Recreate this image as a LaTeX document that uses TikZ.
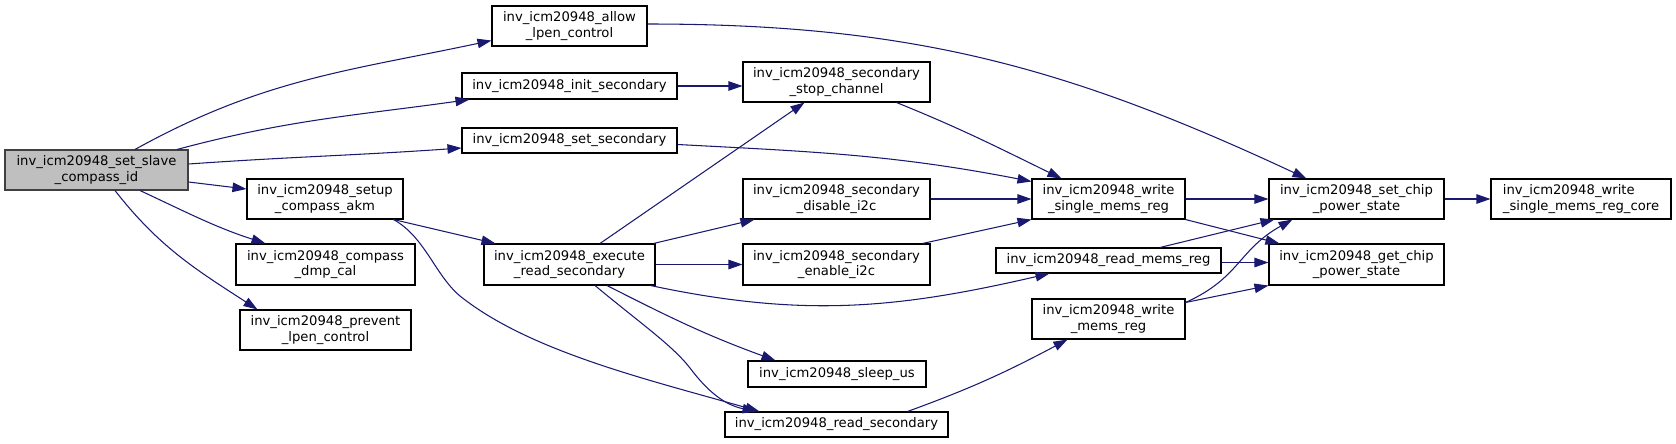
\documentclass[tikz,border=0pt]{standalone}
\usepackage{fontspec}
\setmainfont{DejaVu Sans}
\usetikzlibrary{arrows.meta,positioning,calc}
\definecolor{edgeblue}{HTML}{191970}
\definecolor{mainfill}{HTML}{BFBFBF}
\definecolor{mainline}{HTML}{404040}
\tikzset{
  fn/.style 2 args={rectangle, draw=black, fill=white, line width=0.6pt, align=center,
    minimum width=#1*0.02cm, minimum height=#2*0.02cm, inner sep=1pt,
    font=\fontsize{7.5}{8.6}\selectfont},
  fn main/.style 2 args={fn={#1}{#2}, fill=mainfill, draw=mainline},
  call/.style={-{Triangle[length=0.28cm, width=0.19cm]}, edgeblue, line width=0.6pt},
}

\begin{document}
\begin{tikzpicture}[x=0.02cm,y=-0.02cm]
\useasboundingbox (0,0) rectangle (1676,443);
% functions
\node[fn main={183}{40}] (setslave) at (96.5,170) {inv\_icm20948\_set\_slave\\\_compass\_id};
\node[fn={155}{40}] (allow) at (569.5,26) {inv\_icm20948\_allow\\\_lpen\_control};
\node[fn={215}{26}] (initsec) at (569.5,86) {inv\_icm20948\_init\_secondary};
\node[fn={215}{25}] (setsec) at (569.5,140.5) {inv\_icm20948\_set\_secondary};
\node[fn={156}{40}] (setupakm) at (325,199) {inv\_icm20948\_setup\\\_compass\_akm};
\node[fn={179}{41}] (dmpcal) at (325.5,264.5) {inv\_icm20948\_compass\\\_dmp\_cal};
\node[fn={171}{40}] (prevent) at (325.5,330) {inv\_icm20948\_prevent\\\_lpen\_control};
\node[fn={171}{41}] (execread) at (569.5,264.5) {inv\_icm20948\_execute\\\_read\_secondary};
\node[fn={187}{40}] (stopch) at (836.5,82) {inv\_icm20948\_secondary\\\_stop\_channel};
\node[fn={187}{40}] (disable) at (836.5,199) {inv\_icm20948\_secondary\\\_disable\_i2c};
\node[fn={187}{41}] (enable) at (836.5,264.5) {inv\_icm20948\_secondary\\\_enable\_i2c};
\node[fn={178}{26}] (sleepus) at (837,374) {inv\_icm20948\_sleep\_us};
\node[fn={223}{25}] (readsec) at (836.5,424.5) {inv\_icm20948\_read\_secondary};
\node[fn={153}{40}] (wsingle) at (1108.5,199) {inv\_icm20948\_write\\\_single\_mems\_reg};
\node[fn={225}{25}] (readmems) at (1108.5,260.5) {inv\_icm20948\_read\_mems\_reg};
\node[fn={153}{40}] (wmems) at (1108.5,319) {inv\_icm20948\_write\\\_mems\_reg};
\node[fn={175}{40}] (setchip) at (1356.5,199) {inv\_icm20948\_set\_chip\\\_power\_state};
\node[fn={175}{41}] (getchip) at (1356.5,264.5) {inv\_icm20948\_get\_chip\\\_power\_state};
\node[fn={180}{40}, align=left] (core) at (1581,199) {inv\_icm20948\_write\\\_single\_mems\_reg\_core};
% calls from set_slave_compass_id
\draw[call] ($(setslave.north)+(38.5,0)$) to[out=29,in=192] ($(allow.south west)+(0,-6)$);
\draw[call] ($(setslave.north)+(80.5,0)$) to[out=15,in=188] ($(initsec.south west)+(8,0)$);
\draw[call] ($(setslave.east)+(0,-6)$) to[out=4,in=184] ($(setsec.west)+(0,7.5)$);
\draw[call] ($(setslave.east)+(0,12)$) -- ($(setupakm.west)+(0,-10)$);
\draw[call] ($(setslave.south)+(43.5,0)$) to[out=-25,in=162] ($(dmpcal.north west)+(30,0)$);
\draw[call] ($(setslave.south)+(18.5,0)$) to[out=-52,in=147] ($(prevent.north west)+(18,0)$);
% second level
\draw[call] ($(allow.east)+(0,-2)$) to[out=0,in=155] ($(setchip.north west)+(38,0)$);
\draw[call] (initsec.east) -- (initsec.east -| stopch.west);
\draw[call] ($(setsec.east)+(0,4)$) to[out=-3,in=169] ($(wsingle.north west)+(0,3)$);
\draw[call] ($(setupakm.south east)+(-10,0)$) -- ($(execread.north west)+(12,0)$);
\draw[call] ($(setupakm.south east)+(-10,0)$) .. controls (425,237) and (435,275) .. (460,296)
  .. controls (530,352) and (650,380) .. ($(readsec.north west)+(35,0)$);
% execute_read_secondary
\draw[call] ($(execread.north)+(30.5,0)$) -- ($(stopch.south west)+(62,0)$);
\draw[call] ($(execread.north east)+(-2,0)$) -- ($(disable.south west)+(12,0)$);
\draw[call] (execread.east) -- (enable.west);
\draw[call] ($(execread.south east)+(-5,0)$) to[out=-12,in=193] ($(readmems.south west)+(54,0)$);
\draw[call] ($(execread.south)+(37.5,0)$) to[out=-27,in=160] ($(sleepus.north west)+(28,0)$);
\draw[call] ($(execread.south)+(25.5,0)$) .. controls (640,323) and (672,345) .. (690,368)
  .. controls (708,392) and (725,405) .. ($(readsec.north west)+(32,0)$);
% into write_single_mems_reg
\draw[call] ($(stopch.south east)+(-34,0)$) to[out=-22,in=154] ($(wsingle.north west)+(30,0)$);
\draw[call] (disable.east) -- (wsingle.west);
\draw[call] ($(enable.north east)+(-8,0)$) -- (wsingle.south west);
\draw[call] ($(readsec.north east)+(-41,0)$) to[out=20,in=208] ($(wmems.south west)+(36,0)$);
% chip power state
\draw[call] (wsingle.east) -- (setchip.west);
\draw[call] (wsingle.south east) -- ($(getchip.north west)+(11,0)$);
\draw[call] ($(readmems.north)+(51.5,0)$) -- ($(setchip.south west)+(6,0)$);
\draw[call] ($(readmems.east)+(0,2)$) -- ($(readmems.east -| getchip.west)+(0,2)$);
\draw[call] ($(wmems.north east)+(0,4)$) .. controls (1240,278) and (1238,250) .. ($(setchip.south west)+(24,0)$);
\draw[call] ($(wmems.north east)+(0,4)$) -- (getchip.south west);
\draw[call] (setchip.east) -- (core.west);
\end{tikzpicture}
\end{document}
